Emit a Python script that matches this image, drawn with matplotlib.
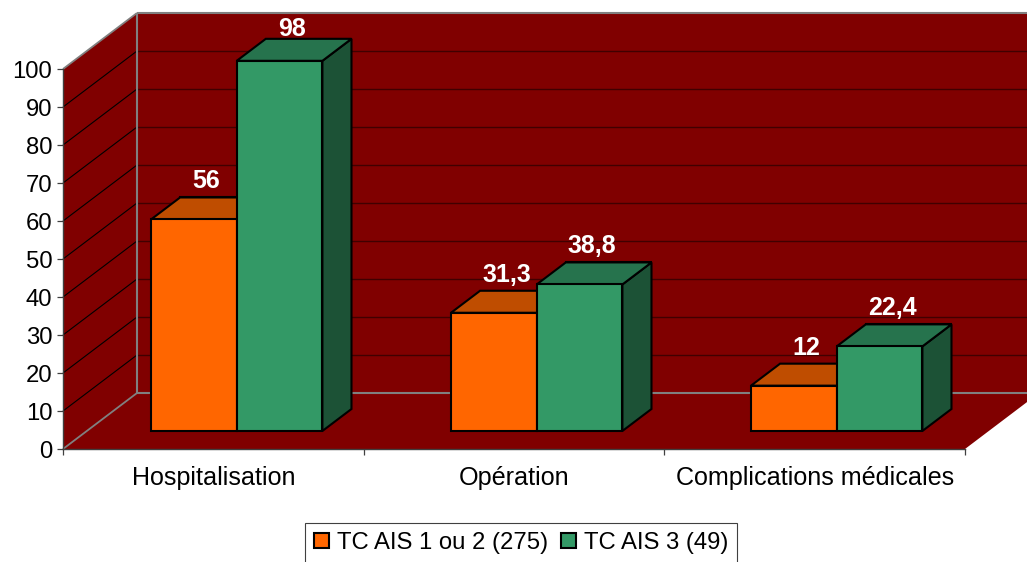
import matplotlib
matplotlib.use("Agg")
import matplotlib.pyplot as plt
from matplotlib.patches import Polygon, Patch

categories = ["Hospitalisation", "Opération", "Complications médicales"]
ais12 = [56, 31.3, 12]
ais3 = [98, 38.8, 22.4]
labels12 = ["56", "31,3", "12"]
labels3 = ["98", "38,8", "22,4"]
series_names = ["TC AIS 1 ou 2 (275)", "TC AIS 3 (49)"]

plt.rcParams["font.family"] = ["Liberation Sans", "DejaVu Sans"]
FS = 17.2

W, H = 1027, 562
fig = plt.figure(figsize=(W / 100, H / 100), dpi=100)
# front plane of the 3d box, in pixels: x 63..965, y 449..69
ax = fig.add_axes([63 / W, 1 - 449 / H, 902 / W, 380 / H])
ax.set_xlim(0, 3)
ax.set_ylim(0, 100)

# depth of the box, in data units
DX = 74 / (902 / 3)
DY = 56 / 3.8


def pt(x, y, z=0):
    return (x + z * DX, y + z * DY)


def face(points, color, edge="none", lw=0, zorder=1):
    ax.add_patch(Polygon(points, closed=True, facecolor=color, edgecolor=edge,
                         linewidth=lw, zorder=zorder, clip_on=False, joinstyle="miter"))


def line(p, q, color, lw, zorder=2):
    ax.plot([p[0], q[0]], [p[1], q[1]], color=color, lw=lw, zorder=zorder,
            clip_on=False, solid_capstyle="butt")


wall = "#800000"
face([pt(0, 0, 1), pt(3, 0, 1), pt(3, 100, 1), pt(0, 100, 1)], wall)
face([pt(0, 0), pt(0, 0, 1), pt(0, 100, 1), pt(0, 100)], wall)
face([pt(0, 0), pt(3, 0), pt(3, 0, 1), pt(0, 0, 1)], wall)

for v in range(10, 100, 10):
    line(pt(0, v), pt(0, v, 1), "#000000", 0.8)
    line(pt(0, v, 1), pt(3, v, 1), "#400000", 1.0)

gray = "#808080"
line(pt(0, 100), pt(0, 100, 1), gray, 1.3)
line(pt(0, 100, 1), pt(3, 100, 1), gray, 1.5)
line(pt(0, 0, 1), pt(0, 100, 1), gray, 1.5)
line(pt(0, 0), pt(0, 0, 1), gray, 1.3)
line(pt(0, 0, 1), pt(3, 0, 1), gray, 1.5)

# bars sit a bit inside the box, and the front of them is 18px above the floor edge
BAR_Z0 = 18 / 56
BAR_DZ = 22 / 56
BAR_W = 85.7 / (902 / 3)
BAR_START = (151 - 63) / (902 / 3) - BAR_Z0 * DX
BAR_STEP = 300 / (902 / 3)
BAR_SCALE = 0.994


def bar3d(x, v, front, top, side):
    h = v * BAR_SCALE
    z0 = BAR_Z0
    z1 = BAR_Z0 + BAR_DZ
    kw = dict(edge="black", lw=1.5, zorder=5)
    face([pt(x, 0, z1), pt(x + BAR_W, 0, z1), pt(x + BAR_W, h, z1), pt(x, h, z1)], side, **kw)
    face([pt(x + BAR_W, 0, z0), pt(x + BAR_W, 0, z1), pt(x + BAR_W, h, z1), pt(x + BAR_W, h, z0)], side, **kw)
    face([pt(x, h, z0), pt(x + BAR_W, h, z0), pt(x + BAR_W, h, z1), pt(x, h, z1)], top, **kw)
    face([pt(x, 0, z0), pt(x + BAR_W, 0, z0), pt(x + BAR_W, h, z0), pt(x, h, z0)], front, **kw)


orange = ("#FF6600", "#BF4D00", "#803300")
green = ("#339966", "#26734D", "#1C5236")

for i in range(len(categories)):
    x = BAR_START + i * BAR_STEP
    bar3d(x, ais12[i], *orange)
    bar3d(x + BAR_W, ais3[i], *green)
    for xb, v, lab in [(x, ais12[i], labels12[i]), (x + BAR_W, ais3[i], labels3[i])]:
        lx, ly = pt(xb + BAR_W / 2, v * BAR_SCALE, BAR_Z0 + BAR_DZ / 2)
        # the tallest label is pushed down by the top of the chart
        dy = 21 if v > 90 else 27
        ax.annotate(lab, (lx, ly), xytext=(-2, dy), textcoords="offset pixels", ha="center", va="center",
                    color="white", fontsize=18, fontweight="bold", zorder=6, annotation_clip=False)

for s in ["top", "right"]:
    ax.spines[s].set_visible(False)
ax.spines["left"].set_color("#404040")
ax.spines["bottom"].set_color("#404040")
ax.spines["left"].set_linewidth(1.0)
ax.spines["bottom"].set_linewidth(1.0)
ax.set_axisbelow(False)

ax.set_yticks(range(0, 101, 10))
ax.tick_params(axis="y", length=4.3, width=0.9, color="#404040", pad=3.5, labelsize=FS)
ax.set_xticks([0, 1, 2, 3])
ax.set_xticklabels([])
ax.set_xticks([0.5, 1.5, 2.5], minor=True)
ax.set_xticklabels(categories, minor=True, fontsize=18.1)
ax.tick_params(axis="x", which="major", length=4.3, width=0.9, color="#404040")
ax.tick_params(axis="x", which="minor", length=0, pad=12)

handles = [Patch(facecolor=orange[0], edgecolor="black", linewidth=1.5),
           Patch(facecolor=green[0], edgecolor="black", linewidth=1.5)]
leg = fig.legend(handles, series_names, ncol=2, loc="upper left",
                 bbox_to_anchor=(305 / W, 1 - 523 / H), borderaxespad=0, fontsize=FS,
                 fancybox=False, framealpha=1, edgecolor="#404040",
                 handlelength=0.62, handleheight=0.62, handletextpad=0.33,
                 columnspacing=0.56, borderpad=0.38)
leg.get_frame().set_linewidth(0.8)

fig.savefig("out.png", dpi=100)
